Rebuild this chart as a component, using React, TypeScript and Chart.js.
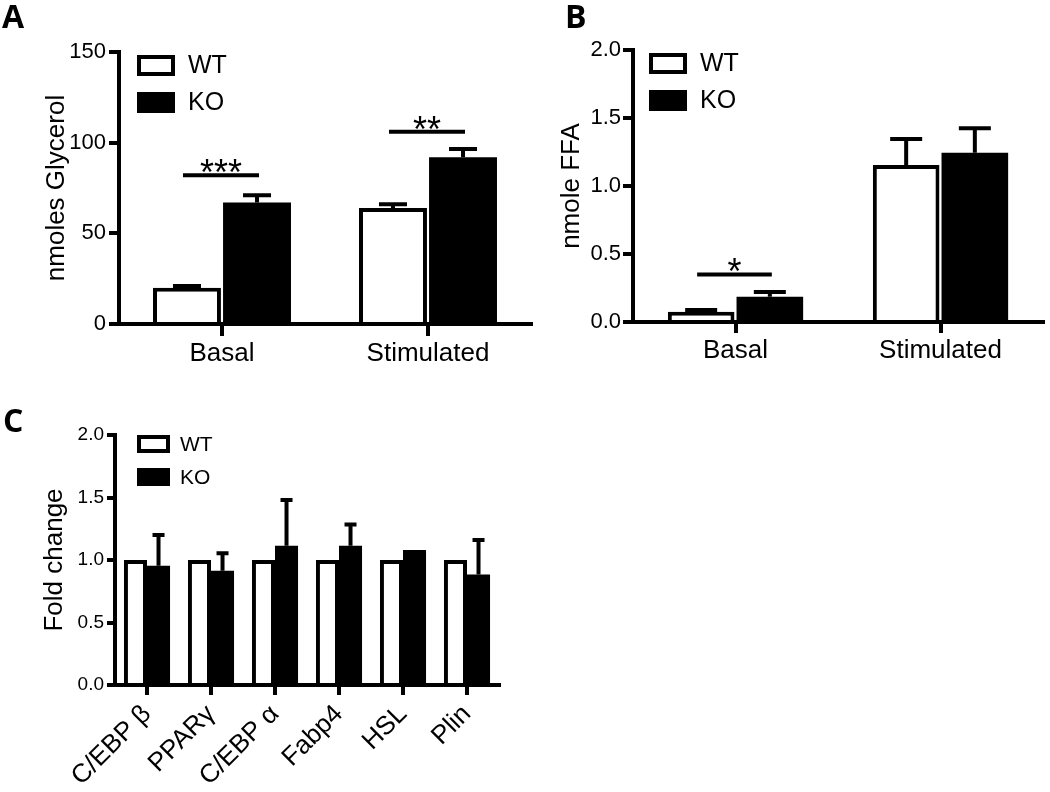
import React, { useEffect, useRef } from 'react';
import { Chart, registerables } from 'chart.js';

Chart.register(...registerables);
Chart.defaults.font.family = "'Liberation Sans', Arial, sans-serif";
Chart.defaults.color = '#000';

// ---------- data ----------
const seriesNames = ['WT', 'KO'];

const catsA = ['Basal', 'Stimulated'];
const wtA = [20, 64];
const koA = [67, 92];
const wtErrA = [1, 2];
const koErrA = [4, 4.5];
const sigA = [
  { cat: 0, y: 82, text: '***' },
  { cat: 1, y: 106, text: '**' },
];

const catsB = ['Basal', 'Stimulated'];
const wtB = [0.075, 1.155];
const koB = [0.185, 1.245];
const wtErrB = [0.013, 0.19];
const koErrB = [0.035, 0.18];
const sigB = [{ cat: 0, y: 0.35, text: '*' }];

const catsC = ['C/EBP β', 'PPARγ', 'C/EBP α', 'Fabp4', 'HSL', 'Plin'];
const wtC = [1, 1, 1, 1, 1, 1];
const koC = [0.955, 0.915, 1.115, 1.115, 1.08, 0.885];
const wtErrC = [0, 0, 0, 0, 0, 0];
const koErrC = [0.245, 0.14, 0.365, 0.17, 0, 0.275];

// ---------- layout ----------
type Sig = { cat: number; y: number; text: string };
type Panel = {
  cats: string[]; wt: number[]; ko: number[]; wtErr: number[]; koErr: number[]; sig: Sig[];
  yMax: number; yStep: number; decimals: number; yTitle: string;
  width: number; height: number; left: number; top: number;
  area: { left: number; top: number; right: number; bottom: number };
  catPct: number; barPct: number;
  yTickFont: number; xTickFont: number; titlePad: number; rotate: number;
  yTickLen: number; yTickPad: number; xTickLen: number; xTickPad: number;
  capW: number;
  legend: { x: number; y: number; w: number; h: number; step: number; textX: number; font: number };
};

const panelA: Panel = {
  cats: catsA, wt: wtA, ko: koA, wtErr: wtErrA, koErr: koErrA, sig: sigA,
  yMax: 150, yStep: 50, decimals: 0, yTitle: 'nmoles Glycerol',
  width: 540, height: 390, left: 0, top: 0,
  area: { left: 119, top: 52, right: 531, bottom: 324 },
  catPct: 0.68, barPct: 0.97,
  yTickFont: 22, xTickFont: 26, titlePad: 41, rotate: 0,
  yTickLen: 10, yTickPad: 3, xTickLen: 12, xTickPad: 2,
  capW: 28,
  legend: { x: 137, y: 55, w: 38, h: 21, step: 37, textX: 188, font: 25 },
};

const panelB: Panel = {
  cats: catsB, wt: wtB, ko: koB, wtErr: wtErrB, koErr: koErrB, sig: sigB,
  yMax: 2, yStep: 0.5, decimals: 1, yTitle: 'nmole FFA',
  width: 510, height: 390, left: 540, top: 0,
  area: { left: 93, top: 50, right: 503, bottom: 322 },
  catPct: 0.67, barPct: 0.97,
  yTickFont: 22, xTickFont: 26, titlePad: 16, rotate: 0,
  yTickLen: 10, yTickPad: 2, xTickLen: 11, xTickPad: 2,
  capW: 32,
  legend: { x: 109, y: 53, w: 38, h: 21, step: 37, textX: 160, font: 25 },
};

const panelC: Panel = {
  cats: catsC, wt: wtC, ko: koC, wtErr: wtErrC, koErr: koErrC, sig: [],
  yMax: 2, yStep: 0.5, decimals: 1, yTitle: 'Fold change',
  width: 540, height: 402, left: 0, top: 390,
  area: { left: 115, top: 45, right: 499, bottom: 295 },
  catPct: 0.72, barPct: 1.0,
  yTickFont: 19, xTickFont: 26, titlePad: 39, rotate: 45,
  yTickLen: 8, yTickPad: 3, xTickLen: 10, xTickPad: 4,
  capW: 12,
  legend: { x: 137, y: 45, w: 33, h: 18, step: 33, textX: 180, font: 21 },
};

// ---------- plugin: error bars, significance, legend ----------
const extrasPlugin = {
  id: 'extras',
  afterDatasetsDraw(chart: any, _args: any, opts: any) {
    const ctx = chart.ctx as CanvasRenderingContext2D;
    const ys = chart.scales.y;
    ctx.save();
    ctx.strokeStyle = '#000';
    ctx.lineWidth = 4;
    ctx.lineCap = 'butt';
    (opts.errors as number[][]).forEach((errs, di) => {
      const meta = chart.getDatasetMeta(di);
      meta.data.forEach((el: any, j: number) => {
        const e = errs[j];
        if (!e) return;
        const v = chart.data.datasets[di].data[j] as number;
        const yt = ys.getPixelForValue(v + e);
        ctx.beginPath();
        ctx.moveTo(el.x, el.y);
        ctx.lineTo(el.x, yt);
        ctx.moveTo(el.x - opts.capW / 2, yt);
        ctx.lineTo(el.x + opts.capW / 2, yt);
        ctx.stroke();
      });
    });
    // significance
    const m0 = chart.getDatasetMeta(0);
    const m1 = chart.getDatasetMeta(1);
    (opts.sig as Sig[]).forEach((s) => {
      const x1 = m0.data[s.cat].x - 4;
      const x2 = m1.data[s.cat].x + 2;
      const y = ys.getPixelForValue(s.y);
      ctx.beginPath();
      ctx.moveTo(x1, y);
      ctx.lineTo(x2, y);
      ctx.stroke();
      ctx.fillStyle = '#000';
      ctx.font = "36px 'Liberation Sans', Arial, sans-serif";
      ctx.textAlign = 'center';
      ctx.textBaseline = 'alphabetic';
      ctx.fillText(s.text, (x1 + x2) / 2, y + 10);
    });
    // legend
    const L = opts.legend;
    chart.data.datasets.forEach((ds: any, di: number) => {
      const bx = L.x;
      const by = L.y + di * L.step;
      ctx.fillStyle = ds.backgroundColor;
      ctx.fillRect(bx, by, L.w, L.h);
      if (ds.borderWidth) {
        ctx.strokeStyle = ds.borderColor;
        ctx.lineWidth = 4;
        ctx.strokeRect(bx + 2, by + 2, L.w - 4, L.h - 4);
      }
      ctx.fillStyle = '#000';
      ctx.font = `${L.font}px 'Liberation Sans', Arial, sans-serif`;
      ctx.textAlign = 'left';
      ctx.textBaseline = 'middle';
      ctx.fillText(ds.label, L.textX, by + L.h / 2 + 1);
    });
    ctx.restore();
  },
};

function buildConfig(p: Panel): any {
  return {
    type: 'bar',
    data: {
      labels: p.cats,
      datasets: [
        {
          label: seriesNames[0], data: p.wt, backgroundColor: '#ffffff', borderColor: '#000000',
          borderWidth: 4, borderSkipped: 'start', categoryPercentage: p.catPct, barPercentage: p.barPct,
        },
        {
          label: seriesNames[1], data: p.ko, backgroundColor: '#000000', borderColor: '#000000',
          borderWidth: 0, categoryPercentage: p.catPct, barPercentage: p.barPct,
        },
      ],
    },
    options: {
      responsive: false,
      animation: false,
      devicePixelRatio: 1,
      layout: { padding: { left: 0, top: p.area.top, right: p.width - p.area.right, bottom: 0 } },
      plugins: {
        legend: { display: false },
        tooltip: { enabled: false },
        extras: { errors: [p.wtErr, p.koErr], sig: p.sig, capW: p.capW, legend: p.legend },
      },
      scales: {
        x: {
          type: 'category',
          offset: true,
          grid: {
            display: true, drawOnChartArea: false, drawTicks: true, offset: false,
            tickLength: p.xTickLen, tickWidth: 4, tickColor: '#000', color: '#000', lineWidth: 4,
          },
          border: { display: true, color: '#000', width: 4 },
          ticks: {
            font: { size: p.xTickFont }, color: '#000', padding: p.xTickPad,
            maxRotation: p.rotate, minRotation: p.rotate, autoSkip: false,
          },
          afterFit: (s: any) => { s.height = p.height - p.area.bottom; },
        },
        y: {
          min: 0,
          max: p.yMax,
          grid: {
            display: true, drawOnChartArea: false, drawTicks: true,
            tickLength: p.yTickLen, tickWidth: 4, tickColor: '#000', color: '#000', lineWidth: 4,
          },
          border: { display: true, color: '#000', width: 4 },
          ticks: {
            stepSize: p.yStep, font: { size: p.yTickFont }, color: '#000', padding: p.yTickPad,
            callback: (v: any) => Number(v).toFixed(p.decimals),
          },
          title: {
            display: true, text: p.yTitle, color: '#000', font: { size: 26 },
            padding: { top: p.titlePad, bottom: 0 },
          },
          afterFit: (s: any) => { s.width = p.area.left; },
        },
      },
    },
    plugins: [extrasPlugin],
  };
}

function PanelChart({ p }: { p: Panel }) {
  const ref = useRef<HTMLCanvasElement>(null);
  useEffect(() => {
    const chart = new Chart(ref.current as HTMLCanvasElement, buildConfig(p));
    return () => chart.destroy();
  }, [p]);
  return (
    <canvas
      ref={ref}
      width={p.width}
      height={p.height}
      style={{ position: 'absolute', left: p.left, top: p.top, width: p.width, height: p.height }}
    />
  );
}

const letterStyle = (left: number, top: number): React.CSSProperties => ({
  position: 'absolute', left, top, fontFamily: "'Open Sans', sans-serif", fontWeight: 700,
  fontSize: 32, lineHeight: '32px', color: '#000',
});

export default function App() {
  return (
    <div style={{ position: 'absolute', left: 0, top: 0, width: 1050, height: 792, background: '#fff', overflow: 'hidden' }}>
      <PanelChart p={panelA} />
      <PanelChart p={panelB} />
      <PanelChart p={panelC} />
      <div style={letterStyle(2, 0)}>A</div>
      <div style={letterStyle(565, 0)}>B</div>
      <div style={letterStyle(3, 404)}>C</div>
    </div>
  );
}
